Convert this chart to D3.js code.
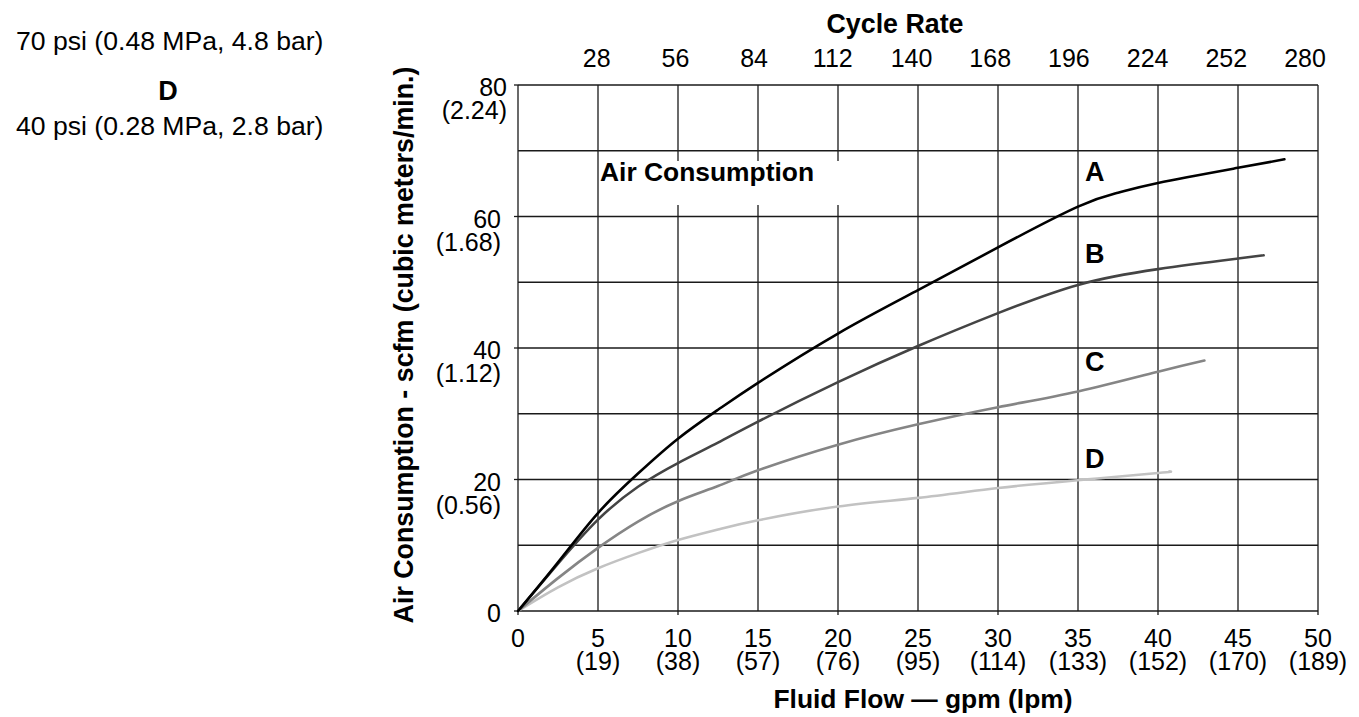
<!DOCTYPE html>
<html>
<head>
<meta charset="utf-8">
<script src="https://cdn.jsdelivr.net/npm/d3@7"></script>
<style>
  html, body { margin: 0; padding: 0; background: #fff; }
  text { font-family: "Liberation Sans", Arial, Helvetica, sans-serif; fill: #000; }
</style>
</head>
<body>
<svg id="chart" width="1359" height="717"></svg>
<script>
// ---- data ----
const xTicks = [0, 5, 10, 15, 20, 25, 30, 35, 40, 45, 50];
const xTickLpm = ["", "(19)", "(38)", "(57)", "(76)", "(95)", "(114)", "(133)", "(152)", "(170)", "(189)"];
const yTicks = [0, 20, 40, 60, 80];
const yTickM3 = ["", "(0.56)", "(1.12)", "(1.68)", "(2.24)"];
const cycleTicks = [28, 56, 84, 112, 140, 168, 196, 224, 252, 280];
const seriesNames = ["A", "B", "C", "D"];
const seriesA = [[0,0],[2.5,7.4],[5,14.9],[7.5,20.9],[10,26.2],[12.5,30.6],[15,34.7],[20,42.2],[25,48.8],[30,55.3],[35,61.5],[37.5,63.6],[40,65.1],[45,67.4],[47.9,68.7]];
const seriesB = [[0,0],[2.5,7.2],[5,13.9],[7.5,18.9],[10,22.5],[12.5,25.6],[15,28.8],[20,34.8],[25,40.3],[30,45.3],[35,49.6],[40,52.0],[45,53.6],[46.6,54.1]];
const seriesC = [[0,0],[2.5,5.0],[5,9.6],[7.5,13.6],[10,16.7],[12.5,19.0],[15,21.4],[20,25.3],[25,28.4],[30,31.0],[35,33.4],[40,36.4],[42.9,38.1]];
const seriesD = [[0,0],[2.5,3.6],[5,6.5],[7.5,8.8],[10,10.8],[12.5,12.4],[15,13.8],[20,15.9],[25,17.2],[30,18.7],[35,19.9],[40,21.0],[40.7,21.2]];
const legendLines = ["70 psi (0.48 MPa, 4.8 bar)", "D", "40 psi (0.28 MPa, 2.8 bar)"];

// ---- layout ----
const svg = d3.select("#chart");
const x = d3.scaleLinear().domain([0, 50]).range([518, 1318]);
const y = d3.scaleLinear().domain([0, 80]).range([611, 85]);
const xTop = d3.scaleLinear().domain([0, 280]).range([518, 1305]);
const gridColor = "#1a1a1a";

// grid
const grid = svg.append("g");
grid.selectAll("line.v").data(d3.range(0, 51, 5)).join("line")
  .attr("x1", d => x(d)).attr("x2", d => x(d))
  .attr("y1", y(0)).attr("y2", y(80))
  .attr("stroke", gridColor).attr("stroke-width", 1.3);
grid.selectAll("line.h").data(d3.range(0, 81, 10)).join("line")
  .attr("x1", x(0)).attr("x2", x(50))
  .attr("y1", d => y(d)).attr("y2", d => y(d))
  .attr("stroke", gridColor).attr("stroke-width", 1.3);

// bottom axis ticks (major)
grid.selectAll("line.bt").data([0,10,20,30,40,50]).join("line")
  .attr("x1", d => x(d)).attr("x2", d => x(d))
  .attr("y1", y(0)).attr("y2", y(0) + 4)
  .attr("stroke", gridColor).attr("stroke-width", 1.3);
// left axis ticks
grid.selectAll("line.lt").data(yTicks).join("line")
  .attr("x1", x(0) - 4).attr("x2", x(0))
  .attr("y1", d => y(d)).attr("y2", d => y(d))
  .attr("stroke", gridColor).attr("stroke-width", 1.3);

// white box behind "Air Consumption" label
svg.append("rect").attr("x", 600).attr("y", 161).attr("width", 260).attr("height", 44).attr("fill", "#fff");
svg.append("text").attr("x", 600).attr("y", 181).attr("font-size", 26.4).attr("font-weight", "bold")
  .text("Air Consumption");

// curves
const colors = { A: "#000000", B: "#444444", C: "#858585", D: "#c2c2c2" };
const allSeries = { A: seriesA, B: seriesB, C: seriesC, D: seriesD };
const line = d3.line().x(d => x(d[0])).y(d => y(d[1])).curve(d3.curveNatural);
seriesNames.slice().reverse().forEach(n => {
  svg.append("path").datum(allSeries[n]).attr("d", line)
    .attr("fill", "none").attr("stroke", colors[n]).attr("stroke-width", 2.6)
    .attr("stroke-linecap", "round");
});

// series labels
const labelY = { A: 181, B: 263, C: 371, D: 468 };
seriesNames.forEach(n => {
  svg.append("text").attr("x", 1085).attr("y", labelY[n])
    .attr("font-size", 27).attr("font-weight", "bold").text(n);
});

// x tick labels
const xl = svg.append("g");
xTicks.forEach((t, i) => {
  xl.append("text").attr("x", x(t)).attr("y", 647).attr("text-anchor", "middle")
    .attr("font-size", 25).text(t);
  if (xTickLpm[i]) xl.append("text").attr("x", x(t)).attr("y", 670).attr("text-anchor", "middle")
    .attr("font-size", 25).text(xTickLpm[i]);
});

// y tick labels
yTicks.forEach((t, i) => {
  const rx = t === 80 ? 507 : 501;
  svg.append("text").attr("x", rx).attr("y", y(t) + 11).attr("text-anchor", "end")
    .attr("font-size", 25).text(t);
  if (yTickM3[i]) svg.append("text").attr("x", rx).attr("y", y(t) + 34).attr("text-anchor", "end")
    .attr("font-size", 25).text(yTickM3[i]);
});

// top cycle-rate labels
cycleTicks.forEach(t => {
  svg.append("text").attr("x", xTop(t)).attr("y", 67).attr("text-anchor", "middle")
    .attr("font-size", 25).text(t);
});

// axis titles
svg.append("text").attr("x", 895).attr("y", 33).attr("text-anchor", "middle")
  .attr("font-size", 26.8).attr("font-weight", "bold").text("Cycle Rate");
svg.append("text").attr("x", 923).attr("y", 708).attr("text-anchor", "middle")
  .attr("font-size", 26.4).attr("font-weight", "bold").text("Fluid Flow — gpm (lpm)");
svg.append("text").attr("transform", "translate(413,345) rotate(-90)").attr("text-anchor", "middle")
  .attr("font-size", 26.8).attr("font-weight", "bold").text("Air Consumption - scfm (cubic meters/min.)");

// top-left legend remnants
svg.append("text").attr("x", 16).attr("y", 50).attr("font-size", 26.6).text(legendLines[0]);
svg.append("text").attr("x", 168).attr("y", 100).attr("text-anchor", "middle")
  .attr("font-size", 27).attr("font-weight", "bold").text(legendLines[1]);
svg.append("text").attr("x", 16).attr("y", 135).attr("font-size", 26.6).text(legendLines[2]);
</script>
</body>
</html>
